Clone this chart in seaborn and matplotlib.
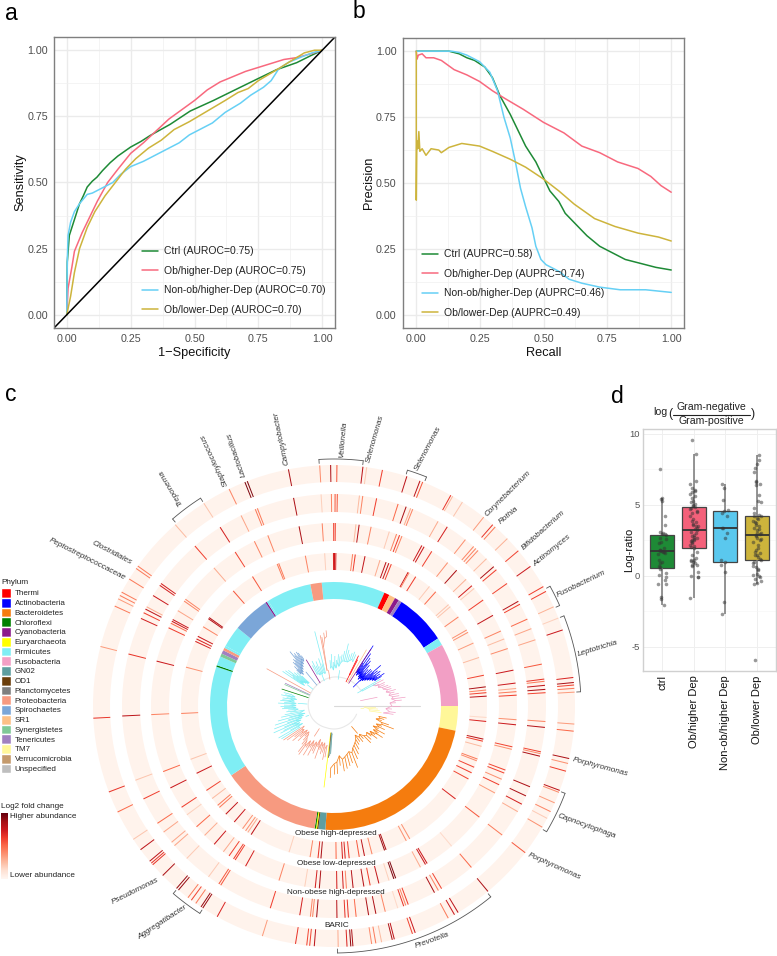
import numpy as np
import pandas as pd
import matplotlib
matplotlib.use("Agg")
import matplotlib.pyplot as plt
import seaborn as sns

W, H = 777, 956

groups = ["Ctrl", "Ob/higher-Dep", "Non-ob/higher-Dep", "Ob/lower-Dep"]
group_colors = ["#1E8A36", "#F8697E", "#66D0F5", "#CDB43C"]
auroc = ["0.75", "0.75", "0.70", "0.70"]
auprc = ["0.58", "0.74", "0.46", "0.49"]

# panel a
roc_ctrl_x = [0, 0.002, 0.01, 0.03, 0.05, 0.065, 0.08, 0.1, 0.118, 0.14, 0.17, 0.2, 0.25, 0.29, 0.327, 0.405, 0.483, 0.574, 0.652, 0.743, 0.82, 0.90, 0.952, 1]
roc_ctrl_y = [0, 0.2, 0.30, 0.36, 0.42, 0.45, 0.483, 0.505, 0.52, 0.545, 0.575, 0.6, 0.634, 0.655, 0.678, 0.72, 0.77, 0.81, 0.847, 0.89, 0.926, 0.953, 0.978, 1]
roc_high_x = [0, 0.005, 0.02, 0.03, 0.06, 0.09, 0.12, 0.16, 0.2, 0.25, 0.3, 0.35, 0.4, 0.45, 0.5, 0.55, 0.6, 0.65, 0.7, 0.75, 0.8, 0.85, 0.9, 0.95, 1]
roc_high_y = [0, 0.1, 0.18, 0.24, 0.31, 0.37, 0.43, 0.50, 0.55, 0.61, 0.65, 0.695, 0.74, 0.775, 0.81, 0.85, 0.88, 0.90, 0.92, 0.935, 0.95, 0.965, 0.972, 0.985, 1]
roc_nonob_x = [0, 0.002, 0.005, 0.015, 0.03, 0.05, 0.08, 0.1, 0.14, 0.18, 0.21, 0.25, 0.3, 0.36, 0.4, 0.44, 0.48, 0.52, 0.57, 0.62, 0.68, 0.72, 0.77, 0.80, 0.83, 0.87, 0.92, 0.96, 1]
roc_nonob_y = [0, 0.2, 0.30, 0.35, 0.39, 0.42, 0.455, 0.46, 0.48, 0.50, 0.53, 0.56, 0.58, 0.61, 0.63, 0.65, 0.68, 0.70, 0.725, 0.765, 0.80, 0.83, 0.86, 0.885, 0.93, 0.955, 0.975, 0.99, 1]
roc_low_x = [0, 0.015, 0.03, 0.05, 0.08, 0.11, 0.15, 0.19, 0.23, 0.27, 0.32, 0.37, 0.42, 0.48, 0.55, 0.62, 0.67, 0.71, 0.75, 0.82, 0.87, 0.93, 0.97, 1]
roc_low_y = [0, 0.07, 0.16, 0.25, 0.33, 0.39, 0.45, 0.50, 0.55, 0.59, 0.63, 0.66, 0.70, 0.73, 0.77, 0.81, 0.84, 0.855, 0.885, 0.925, 0.955, 0.99, 1, 1]

# panel b
pr_ctrl_x = [0.002, 0.13, 0.17, 0.2, 0.23, 0.27, 0.3, 0.33, 0.37, 0.40, 0.43, 0.47, 0.50, 0.525, 0.56, 0.585, 0.63, 0.67, 0.72, 0.76, 0.82, 0.88, 0.94, 1]
pr_ctrl_y = [1, 1, 0.99, 0.975, 0.965, 0.94, 0.90, 0.83, 0.76, 0.70, 0.64, 0.58, 0.52, 0.47, 0.43, 0.385, 0.34, 0.30, 0.26, 0.24, 0.21, 0.195, 0.18, 0.17]
pr_high_x = [0.002, 0.005, 0.01, 0.025, 0.04, 0.07, 0.1, 0.15, 0.2, 0.25, 0.3, 0.35, 0.42, 0.5, 0.58, 0.65, 0.72, 0.79, 0.87, 0.92, 0.96, 1]
pr_high_y = [1, 0.97, 0.985, 0.99, 0.975, 0.975, 0.965, 0.93, 0.91, 0.885, 0.85, 0.82, 0.78, 0.73, 0.69, 0.64, 0.615, 0.58, 0.555, 0.525, 0.49, 0.465]
pr_nonob_x = [0.002, 0.14, 0.17, 0.2, 0.25, 0.29, 0.32, 0.345, 0.37, 0.39, 0.41, 0.43, 0.455, 0.47, 0.49, 0.51, 0.56, 0.6, 0.65, 0.72, 0.8, 0.9, 1]
pr_nonob_y = [1, 1, 0.995, 0.985, 0.96, 0.92, 0.85, 0.75, 0.67, 0.58, 0.48, 0.41, 0.33, 0.26, 0.21, 0.19, 0.165, 0.135, 0.12, 0.105, 0.095, 0.095, 0.085]
pr_low_x = [0.002, 0.002, 0.004, 0.008, 0.012, 0.016, 0.025, 0.04, 0.06, 0.09, 0.1, 0.13, 0.18, 0.25, 0.3, 0.37, 0.43, 0.5, 0.56, 0.62, 0.7, 0.78, 0.87, 0.95, 1]
pr_low_y = [1, 0.435, 0.66, 0.63, 0.695, 0.62, 0.63, 0.605, 0.63, 0.625, 0.615, 0.635, 0.65, 0.64, 0.62, 0.59, 0.56, 0.515, 0.47, 0.42, 0.365, 0.335, 0.31, 0.295, 0.28]

# panel d
box_names = ["ctrl", "Ob/higher Dep", "Non-ob/higher Dep", "Ob/lower Dep"]
ratio_ctrl = [-2.05, -1.6, -1.5, -0.6, -0.55, -0.3, -0.05, 0.05, 0.2, 0.5, 0.6, 0.7, 0.9, 1.0, 1.1, 1.55, 1.6, 1.65, 1.7, 1.75,
              1.75, 1.8, 1.85, 2.0, 2.3, 2.4, 2.6, 2.7, 2.85, 2.95, 2.95, 3.0, 3.1, 3.6, 4.2, 5.3, 5.45, 5.5, 7.5]
ratio_high = [-1.55, -0.1, -0.05, 0, 0.25, 0.7, 0.75, 0.8, 0.9, 1.0, 1.05, 1.1, 1.15, 1.25, 1.5, 1.7, 2.0,
              2.05, 2.1, 2.2, 2.3, 2.4, 2.45, 2.5, 2.55, 2.6, 2.7, 2.75, 2.8, 2.9, 3.0, 3.1, 3.25,
              3.3, 3.4, 3.5, 3.55, 3.6, 3.65, 3.8, 3.9, 4.0, 4.2, 4.4, 4.5, 4.6, 4.7, 4.8, 4.85,
              4.9, 5.0, 5.1, 5.2, 5.3, 5.5, 5.6, 5.8, 5.9, 6.0, 6.05, 6.2, 6.5, 6.7, 8.6, 9.6]
ratio_nonob = [-2.65, -1.85, 0.3, 0.8, 1.0, 1.1, 2.65, 3.0, 3.35, 3.4, 4.2, 4.4, 4.6, 4.65, 5.35, 6.2, 6.45]
ratio_low = [-5.9, -0.55, -0.5, -0.35, -0.2, -0.05, 0, 0.05, 0.1, 0.4, 0.5, 0.6, 0.7, 0.9, 1.0, 1.1,
             1.2, 1.3, 1.45, 1.5, 1.6, 1.7, 1.8, 2.0, 2.2, 2.4, 2.5, 2.6, 2.7, 2.8, 2.9,
             2.95, 3.0, 3.05, 3.2, 3.3, 3.4, 3.5, 3.6, 3.7, 3.8, 3.9, 4.0, 4.1, 4.2, 4.25,
             4.3, 4.4, 4.8, 5.2, 5.25, 5.7, 6.4, 6.5, 6.6, 6.7, 7.3, 7.6, 7.9, 8.2, 8.5]
box_colors = ["#1E8A36", "#F4617A", "#5AC8EE", "#CDB43C"]

# panel c: phylum legend
phyla = ["Thermi", "Actinobacteria", "Bacteroidetes", "Chloroflexi", "Cyanobacteria", "Euryarchaeota", "Firmicutes",
         "Fusobacteria", "GN02", "OD1", "Planctomycetes", "Proteobacteria", "Spirochaetes", "SR1", "Synergistetes",
         "Tenericutes", "TM7", "Verrucomicrobia", "Unspecified"]
phylum_colors = ["#FF0000", "#0000FF", "#F57C0E", "#008000", "#8B1A8B", "#FFFF00", "#7FEEF4", "#F29FC5", "#5E9EA0", "#6B3E0B",
                 "#7F7F7F", "#F79A80", "#7BA6D8", "#FDC086", "#7FC997", "#A080C0", "#FFF799", "#C49A6C", "#BEBEBE"]

# phylum ring, degrees clockwise from the top
seg_start = [354.3, 24, 26.5, 29.5, 31.5, 33, 57, 60.5, 90, 101.5, 184, 187.3, 187.9, 188.4, 189, 236, 288.5, 289.2, 293.5, 295, 296.7, 298, 299, 309, 326.5, 327.2, 328, 349]
seg_width = [29.7, 2.5, 3, 2, 1.5, 24, 3.5, 29.5, 11.5, 82.5, 3.3, 0.6, 0.5, 0.6, 47, 52.5, 0.7, 4.3, 1.5, 1.7, 1.3, 1, 10, 17.5, 0.7, 0.8, 21, 5.3]
seg_phylum = ["Firmicutes", "Thermi", "SR1", "Cyanobacteria", "Tenericutes", "Actinobacteria", "Firmicutes", "Fusobacteria", "TM7",
              "Bacteroidetes", "GN02", "OD1", "Euryarchaeota", "Chloroflexi", "Proteobacteria", "Firmicutes", "Chloroflexi", "Firmicutes",
              "Synergistetes", "Tenericutes", "Proteobacteria", "Firmicutes", "Firmicutes", "Spirochaetes", "Cyanobacteria", "Firmicutes",
              "Firmicutes", "Proteobacteria"]

# heat rings
high_dep_deg = [349.2, 356.5, 359.8, 0.2, 0.7, 7, 8, 11.7, 17.5, 19.9, 21, 22, 29, 29.4, 32.3, 38.6, 41.7, 48.5, 49.5, 54.4, 60.2, 61.2, 65.7, 71.5, 78.4,
                82.8, 84, 85, 86.3, 94.3, 95.8, 102.5, 103.3, 105.3, 110.3, 111, 113.6, 115.9, 118.5, 127.4, 150.3, 151.8, 160.1, 160.7, 165.6, 168.5,
                170.5, 174.3, 175.8, 176.8, 179.2, 184.9, 186, 189, 197.1, 212.8, 214.3, 215.3, 216.7, 220.7, 225, 228.5, 229.5, 232.8, 236.5, 243.9,
                249.6, 267.2, 284.7, 295, 296, 297.1, 301.2, 304.8, 305.3, 318.8, 327.8, 338.2, 338.8]
high_dep_lvl = [0.42, 0.18, 0.7, 0.75, 0.7, 0.42, 0.62, 0.78, 0.3, 0.8, 0.78, 0.6, 0.75, 0.4, 0.62, 0.2, 0.5, 0.22, 0.22, 0.42, 0.38, 0.38, 0.35, 0.25, 0.6,
                0.85, 0.42, 0.6, 0.8, 0.15, 0.7, 0.8, 0.62, 0.25, 0.45, 0.4, 0.6, 0.62, 0.6, 0.7, 0.38, 0.38, 0.85, 0.9, 0.42, 0.8,
                0.55, 0.62, 0.7, 0.7, 0.5, 0.85, 0.65, 0.42, 0.18, 0.8, 0.3, 0.38, 0.38, 0.75, 0.78, 0.45, 0.45, 0.25, 0.6, 0.75,
                0.22, 0.42, 0.38, 0.7, 0.7, 0.75, 0.42, 0.82, 0.82, 0.55, 0.55, 0.45, 0.45]

low_dep_deg = [349, 356.3, 359.9, 0.4, 6.9, 7.9, 11.7, 17.6, 20, 21, 21.8, 28.7, 29.5, 32.3, 38.4, 42.1, 46.2, 48.9, 50, 54.6, 60.3, 65.8, 68.5, 71.7, 78.7,
               82.8, 84.5, 85.5, 86.6, 94.3, 95.9, 102.9, 103.7, 110.5, 111.5, 113.6, 115.5, 118.4, 127.4, 140, 149.4, 150, 151.8, 160.3, 160.9, 162.5,
               165.8, 168.6, 170.6, 174, 176.1, 177.1, 179.1, 184.6, 185.9, 189.2, 197.5, 208.9, 212.7, 213.3, 215, 217.2, 220.9, 225, 228.7, 233.5,
               236.4, 243.4, 249, 267.3, 284.2, 295.3, 296.9, 297.6, 298.2, 301.4, 305, 305.7, 319, 327.3, 334.2, 338.8]
low_dep_lvl = [0.85, 0.42, 0.62, 0.62, 0.25, 0.82, 0.42, 0.2, 0.42, 0.62, 0.42, 0.75, 0.75, 0.62, 0.38, 0.85, 0.28, 0.72, 0.2, 0.62, 0.78, 0.42, 0.25, 0.4, 0.75,
               0.75, 0.3, 0.45, 0.62, 0.38, 0.75, 0.6, 0.38, 0.6, 0.6, 0.38, 0.62, 0.35, 0.55, 0.15, 0.75, 0.75, 0.3, 0.95, 0.95, 0.18,
               0.78, 0.62, 0.82, 0.82, 0.42, 0.72, 0.72, 0.85, 0.72, 0.18, 0.42, 0.72, 0.62, 0.62, 0.6, 0.3, 0.75, 0.3, 0.5, 0.18,
               0.62, 0.75, 0.5, 0.42, 0.75, 0.62, 0.5, 0.75, 0.75, 0.32, 0.42, 0.42, 0.3, 0.6, 0.42, 0.42]

nonob_dep_deg = [349, 356.5, 359.3, 0.3, 0.9, 6.9, 7.8, 11.6, 17.6, 19.9, 21.2, 21.8, 29.4, 32.3, 38.3, 41.2, 42, 42.8, 46, 48.9, 50, 54.7, 60.4, 61.3, 65.8, 68.6, 71.8, 78.6,
                 82.7, 83.3, 84.4, 85.5, 86.4, 94.2, 95.8, 102.5, 103, 103.7, 112.4, 115.1, 117.6, 119.9, 127.5, 139.6, 149.5, 150.5, 151.7, 159.5, 160.2, 160.8, 162.5,
                 166, 168.6, 170.6, 174, 176.1, 177, 179.2, 184.7, 185.8, 186.4, 189.3, 197.5, 212.3, 212.9, 216.3, 224, 228.8, 230, 233.5, 236.4, 244, 249.5, 267.3,
                 284.2, 294.4, 296.1, 297.2, 297.9, 301.4, 304.7, 305.3, 319, 327.5, 334, 338.2, 338.8]
nonob_dep_lvl = [0.85, 0.18, 0.42, 0.55, 0.55, 0.25, 0.42, 0.62, 0.5, 0.85, 0.3, 0.42, 0.3, 0.72, 0.38, 0.42, 0.42, 0.42, 0.25, 0.85, 0.62, 0.6, 0.82, 0.62, 0.5, 0.32, 0.32, 0.55,
                 0.65, 0.45, 0.78, 0.85, 0.6, 0.42, 0.82, 0.6, 0.4, 0.85, 0.85, 0.85, 0.72, 0.3, 0.45, 0.5, 0.6, 0.42, 0.85, 0.62, 0.42, 0.65, 0.15,
                 0.42, 0.85, 0.85, 0.5, 0.65, 0.65, 0.82, 0.88, 0.42, 0.42, 0.72, 0.62, 0.55, 0.55, 0.2, 0.2, 0.32, 0.32, 0.32, 0.5, 0.62, 0.22, 0.8,
                 0.65, 0.72, 0.62, 0.8, 0.3, 0.75, 0.72, 0.72, 0.62, 0.72, 0.32, 0.45, 0.45, 0.85]

baric_deg = [349.1, 356.6, 359.2, 0.7, 6.9, 7.8, 11.6, 17.6, 20.9, 21.6, 29, 29.5, 32.2, 38.4, 41.2, 42, 46, 49.9, 54.6, 60.3, 61.6, 65.7, 68.6, 71.6,
             83.2, 84.4, 85, 85.8, 86.7, 94.3, 96, 102.6, 103.8, 105.7, 110.5, 111, 113.7, 116, 117.8, 120.2, 127.5, 140.3, 149, 150, 151.7, 160.3, 161,
             165.5, 166, 168.6, 170, 171, 175.5, 176, 176.9, 179, 184.7, 185.8, 186.5, 189.2, 197.3, 209, 213, 213.5, 215, 216.3, 217.3, 220.2, 220.8,
             225.3, 228.8, 229.3, 229.9, 233.4, 236.4, 243.9, 249.1, 267.1, 284.3, 294.5, 296.4, 297.3, 298.2, 301.8, 304.8, 305.5, 318.8, 327.3, 334.2, 338.3, 338.9]
baric_lvl = [0.85, 0.4, 0.85, 0.55, 0.8, 0.2, 0.62, 0.8, 0.8, 0.55, 0.65, 0.25, 0.22, 0.35, 0.65, 0.45, 0.28, 0.6, 0.75, 0.62, 0.62, 0.28, 0.18, 0.75,
             0.7, 0.85, 0.6, 0.45, 0.35, 0.35, 0.5, 0.85, 0.38, 0.62, 0.8, 0.4, 0.35, 0.42, 0.2, 0.38, 0.55, 0.85, 0.8, 0.75, 0.45, 0.75, 0.6,
             0.8, 0.85, 0.25, 0.45, 0.4, 0.85, 0.92, 0.7, 0.3, 0.8, 0.6, 0.6, 0.65, 0.35, 0.7, 0.9, 0.9, 0.45, 0.6, 0.45, 0.9, 0.9,
             0.85, 0.65, 0.65, 0.8, 0.8, 0.22, 0.5, 0.65, 0.65, 0.35, 0.45, 0.35, 0.45, 0.45, 0.45, 0.45, 0.45, 0.25, 0.22, 0.42, 0.95, 0.95]

ring_names = ["Obese high-depressed", "Obese low-depressed", "Non-obese high-depressed", "BARIC"]
ring_name_deg = [179.3, 179.3, 179.3, 179.3]
ring_name_r = [128, 157.7, 186.4, 219.3]

# taxon labels round the rings
taxa = ["Treponema", "Staphylococcus", "Lactobacillus", "Campylobacter", "Veillonella", "Selenomonas", "Selenomonas", "Corynebacterium",
        "Rothia", "Bifidobacterium", "Actinomyces", "Fusobacterium", "Leptotrichia", "Porphyromonas", "Capnocytophaga", "Porphyromonas",
        "Prevotella", "Aggregatibacter", "Pseudomonas", "Clostridiales", "Peptostreptococcaceae"]
taxa_deg = [323.3, 334, 338.8, 348.8, 2, 8.7, 20, 39.2, 42.5, 50, 54.6, 63.6, 77.8, 103, 115.4, 126, 157.2, 218.3, 227, 304.7, 300.8]
taxa_r = [273.4, 273.6, 270.4, 273, 266.9, 270.8, 274, 274.6, 258, 273.5, 268, 275.5, 270, 273, 280, 273, 253.8, 276, 272, 269.8, 287]
taxa_rot = [121, 115, 109, 102, 85, 74, 62, 45, 40, 42, 39, 26, 17, -15, -20, -24, 20, 33, 26.5, -27.6, -27]

bracket_from = [319.2, 356.5, 17.3, 61, 68.6, 110.7, 140.6, 212.9]
bracket_to = [327.3, 366.8, 22, 66, 86.7, 120.6, 179.2, 220.6]

# tree clades: phylum, branch angle, inner radius, tip radius
tree = [
    ("Fusobacteria", [62, 64, 65, 67, 69, 71, 73, 75, 77, 79, 81, 83, 85, 87, 90, 93, 96, 98],
     [44, 46, 50, 48, 52, 52, 56, 54, 58, 56, 60, 58, 62, 56, 58, 52, 56, 50],
     [56, 50, 56, 55, 58, 60, 60, 64, 62, 66, 66, 72, 68, 62, 66, 58, 62, 60]),
    ("Actinobacteria", [33, 34, 35, 36, 37, 38, 39, 40, 41, 42, 43, 44, 45, 46, 47, 48, 49, 50, 51, 52, 53, 54, 55, 56, 57, 58],
     [44, 40, 46, 38, 44, 40, 46, 38, 44, 36, 42, 38, 44, 36, 42, 38, 44, 40, 46, 42, 48, 44, 50, 46, 50, 48],
     [72, 52, 64, 50, 60, 54, 58, 46, 54, 44, 50, 46, 52, 44, 52, 48, 62, 52, 56, 50, 58, 52, 56, 52, 60, 56]),
    ("Firmicutes", [60, 62], [32, 32], [54, 48]),
    ("Thermi", [26, 27], [35, 35], [56, 52]),
    ("SR1", [30], [35], [65]),
    ("Cyanobacteria", [33], [38], [68]),
    ("Firmicutes", [355, 357, 359, 361, 363, 365, 367, 369, 371, 373, 375, 377, 379, 381, 383],
     [38, 40, 36, 42, 38, 44, 40, 44, 46, 46, 46, 46, 48, 50, 48],
     [46, 52, 44, 50, 46, 52, 50, 52, 56, 64, 58, 54, 56, 58, 56]),
    ("Firmicutes", [332, 334, 336, 338, 340, 342, 344, 345.5], [36, 36, 34, 36, 34, 36, 34, 34], [46, 50, 44, 48, 42, 50, 44, 77]),
    ("Proteobacteria", [349, 350, 352, 354], [36, 60, 68, 70], [72, 70, 74, 76]),
    ("Cyanobacteria", [329], [34], [54]),
    ("Spirochaetes", [314, 315, 316, 317, 318, 319, 320, 321, 322, 323, 324, 325, 326, 327],
     [46, 48, 44, 50, 46, 52, 48, 54, 50, 56, 52, 58, 54, 56],
     [52, 56, 52, 60, 58, 62, 60, 70, 64, 66, 62, 66, 64, 60]),
    ("Firmicutes", [304, 305, 306, 307, 308, 309, 310, 311, 312, 313], [40, 36, 44, 38, 42, 36, 40, 34, 38, 34], [62, 50, 60, 52, 58, 48, 52, 46, 50, 44]),
    ("Proteobacteria", [299], [46], [77]),
    ("Chloroflexi", [288], [30], [55]),
    ("Tenericutes", [295], [32], [54]),
    ("Synergistetes", [293.5], [36], [54]),
    ("Firmicutes", [263, 265, 267, 268, 270, 271, 273, 274, 276, 277, 279, 280, 282, 283, 285],
     [40, 36, 42, 38, 44, 38, 44, 38, 46, 40, 44, 38, 46, 40, 44],
     [48, 46, 52, 50, 54, 50, 56, 50, 54, 52, 52, 48, 54, 50, 52]),
    ("Firmicutes", [238, 240, 241, 243, 244, 246, 247, 249, 250, 252, 253, 255, 256, 258, 260, 262],
     [40, 42, 36, 44, 38, 46, 36, 42, 34, 40, 32, 38, 30, 36, 32, 30],
     [62, 64, 50, 60, 56, 66, 54, 64, 50, 62, 48, 58, 46, 54, 50, 44]),
    ("Proteobacteria", [190, 192, 194, 196, 198, 200, 202, 204, 206, 208, 210, 212, 214, 216, 218, 220, 222, 224, 226, 228, 230, 232, 234, 236],
     [40, 44, 38, 42, 38, 46, 36, 44, 40, 46, 40, 48, 42, 50, 44, 42, 38, 36, 40, 36, 42, 38, 40, 36],
     [52, 55, 48, 50, 46, 56, 44, 52, 50, 56, 48, 58, 50, 60, 58, 50, 46, 42, 50, 46, 54, 50, 58, 61]),
    ("Euryarchaeota", [187], [34], [82]),
    ("OD1", [186], [30], [52]),
    ("GN02", [184, 185], [28, 30], [48, 50]),
    ("Bacteroidetes", [103, 105, 107, 109, 111, 113, 115, 117, 119, 121, 123, 125, 127, 129, 132, 135, 138, 141, 144, 147, 150, 153, 156, 159, 162, 165, 168, 171, 174, 177, 180, 183],
     [46, 48, 44, 50, 52, 46, 50, 44, 50, 46, 52, 44, 48, 42, 44, 42, 38, 40, 36, 40, 42, 44, 46, 50, 48, 50, 52, 54, 50, 56, 58, 62],
     [54, 52, 50, 58, 64, 52, 56, 50, 58, 52, 58, 50, 54, 48, 50, 52, 44, 46, 44, 46, 50, 54, 58, 66, 60, 62, 64, 66, 60, 68, 68, 72]),
    ("TM7", [92, 94, 96, 98], [30, 34, 36, 36], [42, 44, 46, 48]),
]
stem_deg = [90, 90]
stem_r = [0, 86]
arc_deg = [110, 150, 200, 240, 280, 320, 360, 390, 420]
arc_r = [24, 23, 23, 25, 26, 27, 29, 30, 31]


def place(left, top, right, bottom):
    return [left / W, 1 - bottom / H, (right - left) / W, (bottom - top) / H]


def gg_axes(ax, xlabel, ylabel):
    ax.set_xlim(-0.05, 1.05)
    ax.set_ylim(-0.05, 1.05)
    ax.set_xticks([0, 0.25, 0.5, 0.75, 1])
    ax.set_yticks([0, 0.25, 0.5, 0.75, 1])
    ax.set_xticklabels(["0.00", "0.25", "0.50", "0.75", "1.00"])
    ax.set_yticklabels(["0.00", "0.25", "0.50", "0.75", "1.00"])
    ax.set_xticks([0.125, 0.375, 0.625, 0.875], minor=True)
    ax.set_yticks([0.125, 0.375, 0.625, 0.875], minor=True)
    ax.grid(which="major", color="#EBEBEB", lw=1.0)
    ax.grid(which="minor", color="#F0F0F0", lw=0.5)
    ax.tick_params(which="major", length=2.5, width=0.7, color="#333333", labelcolor="#4D4D4D", labelsize=7.7, pad=2)
    ax.tick_params(which="minor", length=0)
    ax.set_xlabel(xlabel, fontsize=9.2, labelpad=2, color="#111111")
    ax.set_ylabel(ylabel, fontsize=9.2, labelpad=0.5, color="#111111")
    for s in ax.spines.values():
        s.set_color("#7F7F7F")
        s.set_linewidth(1.0)
    ax.set_axisbelow(True)


def curve_frame(xs, ys, names):
    rows = []
    for name, x, y in zip(names, xs, ys):
        rows.append(pd.DataFrame({"x": x, "y": y, "group": name}))
    return pd.concat(rows, ignore_index=True)


def draw_curves(ax, df, anchor):
    sns.lineplot(data=df, x="x", y="y", hue="group", palette=group_colors, estimator=None, sort=False, lw=1.1, ax=ax)
    leg = ax.legend(loc="lower left", bbox_to_anchor=anchor, frameon=False, fontsize=7.5, borderpad=0, borderaxespad=0,
                    handlelength=1.5, handletextpad=0.65, labelspacing=0.92)
    for t in leg.get_texts():
        t.set_color("#222222")


sns.set_theme(style="white")
plt.rcParams["font.family"] = ["Liberation Sans", "DejaVu Sans"]

fig = plt.figure(figsize=(W / 100, H / 100), dpi=100)
reds = sns.color_palette("Reds", as_cmap=True)
phylum_lookup = dict(zip(phyla, phylum_colors))

# a
ax_a = fig.add_axes(place(54, 37, 335, 328))
gg_axes(ax_a, "1\u2212Specificity", "Sensitivity")
roc_names = [f"{g} (AUROC={v})" for g, v in zip(groups, auroc)]
roc_df = curve_frame([roc_ctrl_x, roc_high_x, roc_nonob_x, roc_low_x], [roc_ctrl_y, roc_high_y, roc_nonob_y, roc_low_y], roc_names)
draw_curves(ax_a, roc_df, ((142 - 54) / 281, (328 - 315) / 291))
ax_a.axline((0, 0), slope=1, color="black", lw=1.1)

# b
ax_b = fig.add_axes(place(403, 38, 684, 328))
gg_axes(ax_b, "Recall", "Precision")
pr_names = [f"{g} (AUPRC={v})" for g, v in zip(groups, auprc)]
pr_df = curve_frame([pr_ctrl_x, pr_high_x, pr_nonob_x, pr_low_x], [pr_ctrl_y, pr_high_y, pr_nonob_y, pr_low_y], pr_names)
draw_curves(ax_b, pr_df, ((422 - 403) / 281, (328 - 318) / 290))

# c, circular part
ax_c = fig.add_axes(place(334 - 290, 706 - 290, 334 + 290, 706 + 290), projection="polar", zorder=0)
ax_c.set_theta_zero_location("N")
ax_c.set_theta_direction(-1)
ax_c.set_rlim(0, 290)
ax_c.set_axis_off()
ax_c.patch.set_alpha(0)

ax_c.bar(np.deg2rad(np.array(seg_start) + np.array(seg_width) / 2), 17, width=np.deg2rad(seg_width), bottom=107,
         color=[phylum_lookup[p] for p in seg_phylum], linewidth=0)

rings = [(136, 153, high_dep_deg, high_dep_lvl), (165, 183, low_dep_deg, low_dep_lvl),
         (194, 212, nonob_dep_deg, nonob_dep_lvl), (224, 241, baric_deg, baric_lvl)]
for r0, r1, deg, lvl in rings:
    ax_c.bar(np.pi, r1 - r0, width=2 * np.pi, bottom=r0, color="#FFF3EC", linewidth=0)
    stripe = 1.0 / ((r0 + r1) / 2)
    ax_c.bar(np.deg2rad(deg), r1 - r0, width=stripe, bottom=r0, color=[reds(v) for v in lvl], linewidth=0)

arc_theta = np.linspace(arc_deg[0], arc_deg[-1], 120)
ax_c.plot(np.deg2rad(arc_theta), np.interp(arc_theta, arc_deg, arc_r), color="#E8E8E8", lw=0.8)
ax_c.plot(np.deg2rad(stem_deg), stem_r, color="#D9D9D9", lw=0.8)
for phylum, deg, inner, tip in tree:
    color = phylum_lookup[phylum]
    theta = np.deg2rad(deg)
    ax_c.vlines(theta, inner, tip, color=color, lw=0.5)
    ax_c.plot(theta, inner, color=color, lw=0.5)
    mid = np.mean(theta)
    ax_c.plot([mid, mid], [27, min(inner)], color=color, lw=0.5)

for name, d, r in zip(ring_names, ring_name_deg, ring_name_r):
    ax_c.text(np.deg2rad(d), r, name, ha="center", va="center", fontsize=5.9, color="#222222")

for name, d, r, rot in zip(taxa, taxa_deg, taxa_r, taxa_rot):
    ax_c.text(np.deg2rad(d), r, name, ha="center", va="center", rotation=rot, rotation_mode="anchor",
              fontsize=5.9, fontstyle="italic", color="#333333", clip_on=False)

for d0, d1 in zip(bracket_from, bracket_to):
    span = np.deg2rad(np.linspace(d0, d1, 60))
    ax_c.plot(span, np.full(60, 247), color="#555555", lw=0.6, clip_on=False)
    ax_c.plot(np.deg2rad([d0, d0]), [243, 247], color="#555555", lw=0.6)
    ax_c.plot(np.deg2rad([d1, d1]), [243, 247], color="#555555", lw=0.6)

# c, phylum legend as a stack of bars
ax_leg = fig.add_axes(place(1, 588, 10.7, 773.3))
sns.barplot(y=phyla, x=[1] * len(phyla), hue=phyla, palette=phylum_colors, dodge=False, width=1, saturation=1,
            legend=False, ax=ax_leg, orient="h")
ax_leg.set_xlim(0, 1)
ax_leg.set_xticks([])
ax_leg.set_xlabel("")
ax_leg.set_ylabel("")
ax_leg.yaxis.tick_right()
ax_leg.tick_params(axis="y", length=0, pad=3, labelsize=5.75, labelcolor="#222222")
sns.despine(ax=ax_leg, left=True, bottom=True, right=True, top=True)
fig.text(1 / W, 1 - 582.7 / H, "Phylum", fontsize=5.9, va="center", color="#222222")

# c, fold change key
fold_steps = pd.DataFrame({"key": np.linspace(1, 0, 66)})
ax_key = fig.add_axes(place(1, 812.7, 8, 879))
sns.heatmap(fold_steps, cmap="Reds", vmin=0, vmax=1, cbar=False, xticklabels=False, yticklabels=False, ax=ax_key)
fig.text(1 / W, 1 - 806.7 / H, "Log2 fold change", fontsize=5.9, va="center", color="#222222")
fig.text(9.5 / W, 1 - 817 / H, "Higher abundance", fontsize=5.85, va="center", color="#222222")
fig.text(9.5 / W, 1 - 875.7 / H, "Lower abundance", fontsize=5.85, va="center", color="#222222")

# d
ax_d = fig.add_axes(place(643, 429, 776, 671))
box_df = pd.DataFrame({
    "group": [box_names[0]] * len(ratio_ctrl) + [box_names[1]] * len(ratio_high) + [box_names[2]] * len(ratio_nonob) + [box_names[3]] * len(ratio_low),
    "ratio": ratio_ctrl + ratio_high + ratio_nonob + ratio_low,
})
sns.boxplot(data=box_df, x="group", y="ratio", hue="group", palette=box_colors, order=box_names, width=0.75, saturation=1,
            linecolor="#444444", linewidth=0.9, showcaps=False, showfliers=False, legend=False, ax=ax_d,
            whiskerprops=dict(color="#777777", linewidth=1.1), medianprops=dict(color="#333333", linewidth=1.3))
sns.stripplot(data=box_df, x="group", y="ratio", order=box_names, color="#333333", alpha=0.5, size=2.6, jitter=0.13, linewidth=0, ax=ax_d)
ax_d.set_xlim(-0.6, 3.6)
ax_d.set_ylim(-6.7, 10.35)
ax_d.set_yticks([-5, 0, 5, 10])
ax_d.set_yticks([-2.5, 2.5, 7.5], minor=True)
ax_d.set_yticklabels(["-5", "0", "5", "10"])
ax_d.grid(which="major", color="#EFEFEF", lw=0.7)
ax_d.grid(which="minor", axis="y", color="#F5F5F5", lw=0.4)
ax_d.set_axisbelow(True)
ax_d.tick_params(axis="y", which="major", length=0, pad=2, labelsize=6.8, labelcolor="#555555")
ax_d.tick_params(axis="y", which="minor", length=0)
ax_d.tick_params(axis="x", length=0, pad=3, labelsize=8, labelcolor="#111111", labelrotation=90)
ax_d.set_xlabel("")
ax_d.set_ylabel("Log-ratio", fontsize=8, labelpad=-3, color="#111111")
for s in ax_d.spines.values():
    s.set_color("#D0D0D0")
    s.set_linewidth(1.0)

# log(gram-neg / gram-pos) heading
fig.text(660 / W, 1 - 412 / H, "log", fontsize=7.6, ha="center", va="center", color="#222222")
fig.text(670 / W, 1 - 414 / H, "(", fontsize=9, ha="center", va="center", color="#222222")
fig.text(753 / W, 1 - 414 / H, ")", fontsize=9, ha="center", va="center", color="#222222")
fig.text(711 / W, 1 - 407.5 / H, "Gram-negative", fontsize=7.6, ha="center", va="center", color="#222222")
fig.text(711 / W, 1 - 421.5 / H, "Gram-positive", fontsize=7.6, ha="center", va="center", color="#222222")
fig.add_artist(plt.Line2D([673 / W, 750 / W], [1 - 414.7 / H, 1 - 414.7 / H], color="#222222", lw=0.8))

# panel letters
for letter, x, y in [("a", 5, 20), ("b", 353, 18), ("c", 5, 401), ("d", 611, 403)]:
    fig.text(x / W, 1 - y / H, letter, fontsize=16.5, va="baseline", ha="left", color="black")

fig.savefig("out.png", dpi=100)
